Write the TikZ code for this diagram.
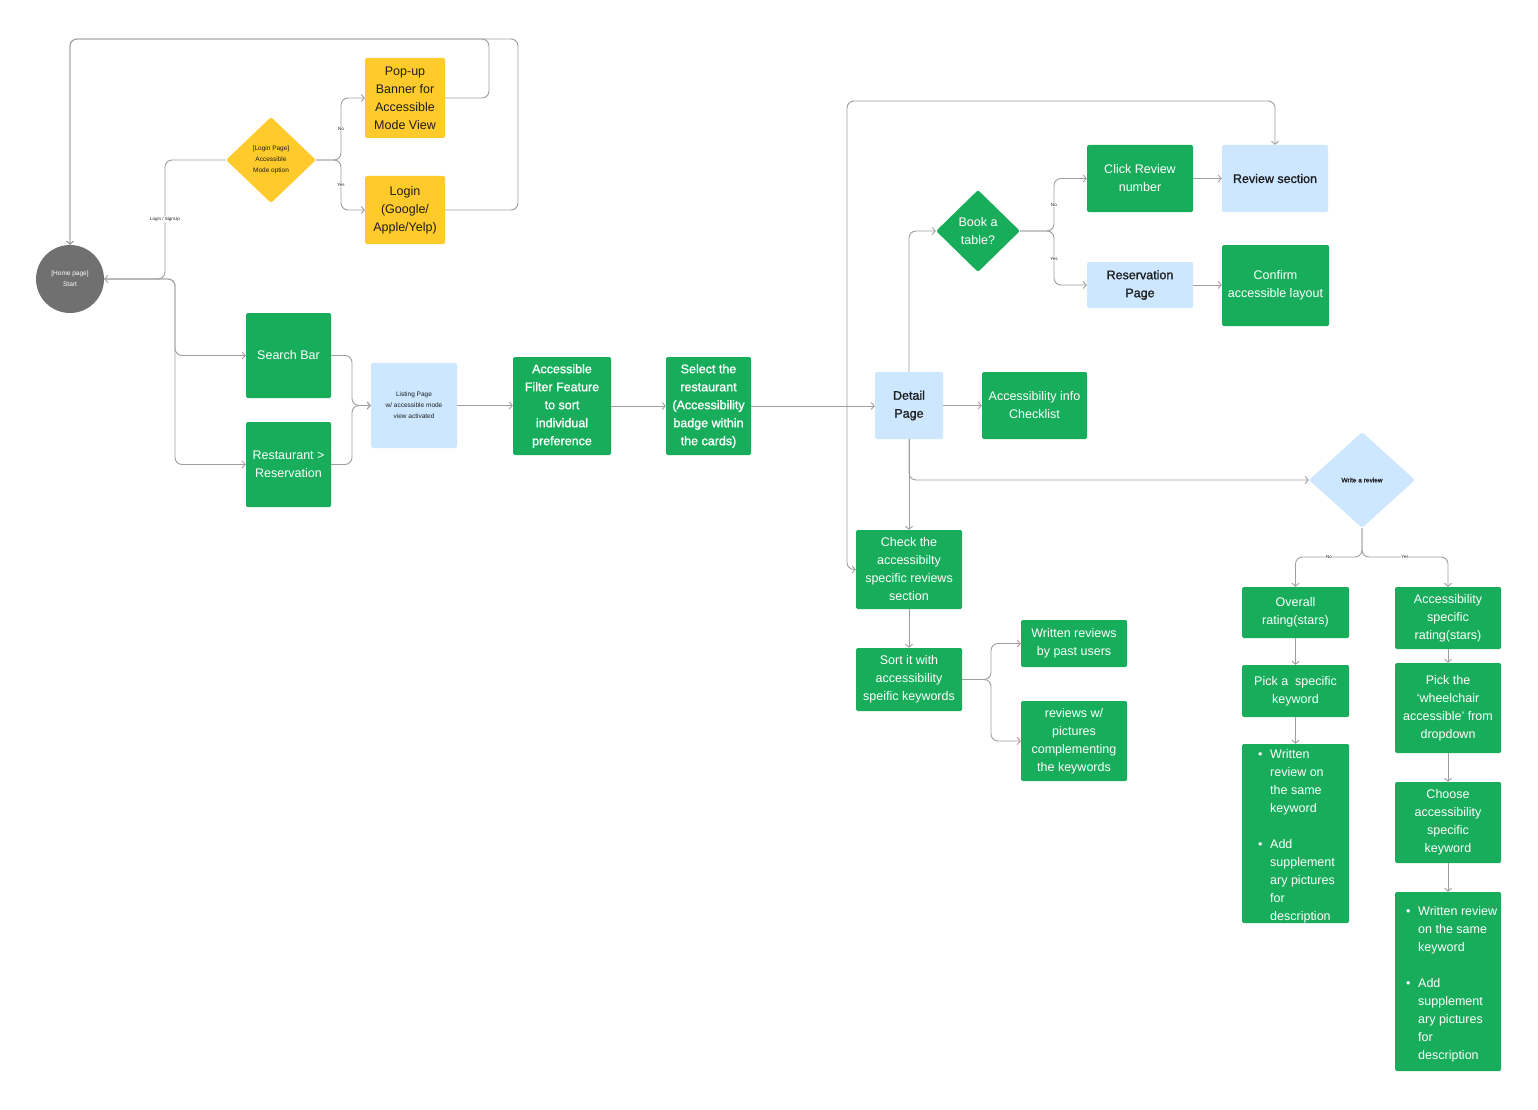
\documentclass[tikz,border=0pt]{standalone}
\usepackage{fontspec}
\setmainfont{Liberation Sans}
\newfontfamily\semi[FakeBold=1.2]{Liberation Sans}
\usetikzlibrary{shapes.geometric,arrows.meta}
\definecolor{gr}{HTML}{17AD5B}
\definecolor{yl}{HTML}{FFCA2C}
\definecolor{bl}{HTML}{CCE7FF}
\definecolor{ln}{HTML}{9E9E9E}
\definecolor{cg}{HTML}{707070}
\definecolor{dk}{HTML}{1E1E1E}
\newcommand\bul{\makebox[12pt][l]{\textbullet}}
\newcommand\ind{\hspace*{12pt}}
\tikzset{
 box/.style={rectangle, rounded corners=1.5pt, inner sep=0pt, align=center, font=\fontsize{12.5}{18}\selectfont},
 gbox/.style={box, fill=gr, text=white},
 ybox/.style={box, fill=yl, text=dk},
 bbox/.style={box, fill=bl, text=dk},
 semifont/.style={font=\semi\fontsize{12.5}{18}\selectfont},
 sz/.style 2 args={minimum width=#1, minimum height=#2},
 dia/.style={diamond, inner sep=0pt, align=center, rounded corners=2pt},
 tiny/.style={font=\fontsize{6.5}{11}\selectfont},
 lbl/.style={fill=white, inner sep=0.6pt, text=dk, font=\fontsize{4.5}{5}\selectfont},
 conn/.style={draw=ln, line width=0.9pt, rounded corners=7pt},
 arr/.style={conn, -{Straight Barb[length=3pt,width=7pt]}},
 arrb/.style={conn, {Straight Barb[length=3pt,width=7pt]}-{Straight Barb[length=3pt,width=7pt]}},
}
\begin{document}
\begin{tikzpicture}[x=1pt,y=-1pt]
\useasboundingbox (0,0) rectangle (1538,1110);
% nodes
\node[circle, fill=cg, minimum size=68pt, inner sep=0pt, text=white, align=center, font=\fontsize{6.5}{11}\selectfont] (home) at (70,279) {[Home page]\\Start};
\node[dia, fill=yl, text=dk, tiny, minimum width=90pt, minimum height=86pt] (logind) at (271,160) {[Login Page]\\Accessible\\Mode option};
\node[ybox, sz={80pt}{80pt}] (popup) at (405,98) {Pop-up\\Banner for\\Accessible\\Mode View};
\node[ybox, sz={80pt}{68pt}] (loginb) at (405,210) {Login\\(Google/\\Apple/Yelp)};
\node[gbox, sz={85pt}{85pt}] (search) at (288.5,355.5) {Search Bar};
\node[gbox, sz={85pt}{85pt}] (rest) at (288.5,464.5) {Restaurant >\\Reservation};
\node[bbox, tiny, sz={86pt}{85pt}] (listing) at (414,405.5) {Listing Page\\w/ accessible mode\\view activated};
\node[gbox, semifont, sz={98pt}{98pt}] (filter) at (562,406) {Accessible\\Filter Feature\\to sort\\individual\\preference};
\node[gbox, semifont, sz={85pt}{98pt}] (select) at (708.5,406) {Select the\\restaurant\\(Accessibility\\badge within\\the cards)};
\node[bbox, semifont, sz={68pt}{67pt}] (detail) at (909,405.5) {Detail\\Page};
\node[gbox, sz={105pt}{67pt}] (checklist) at (1034.5,405.5) {Accessibility info\\Checklist};
\node[dia, fill=gr, text=white, font=\fontsize{12.5}{18}\selectfont, minimum width=84pt, minimum height=82pt] (book) at (978,231) {Book a\\table?};
\node[gbox, sz={106pt}{67pt}] (clickrev) at (1140,178.5) {Click Review\\number};
\node[bbox, semifont, sz={106pt}{67pt}] (review) at (1275,178.5) {Review section};
\node[bbox, semifont, sz={106pt}{46pt}] (resv) at (1140,285) {Reservation\\Page};
\node[gbox, sz={107pt}{81pt}] (confirm) at (1275.5,285.5) {Confirm\\accessible layout};
\node[dia, fill=bl, text=dk, font=\semi\fontsize{6.5}{8}\selectfont, minimum width=106pt, minimum height=96pt] (write) at (1362,480) {Write a review};
\node[gbox, sz={106pt}{79pt}] (check) at (909,569.5) {Check the\\accessibilty\\specific reviews\\section};
\node[gbox, sz={106pt}{63pt}] (sort) at (909,679.5) {Sort it with\\accessibility\\speific keywords};
\node[gbox, sz={106pt}{47pt}] (written) at (1074,643.5) {Written reviews\\by past users};
\node[gbox, sz={106pt}{80pt}] (pics) at (1074,741) {reviews w/\\pictures\\complementing\\the keywords};
\node[gbox, sz={107pt}{51pt}] (overall) at (1295.5,612.5) {Overall\\rating(stars)};
\node[gbox, sz={107pt}{52pt}] (pickkw) at (1295.5,691) {Pick a\ \ specific\\keyword};
\node[gbox, sz={107pt}{179pt}] (bulL) at (1295.5,833.5) {};
\node[gbox, sz={106pt}{62pt}] (accrating) at (1448,618) {Accessibility\\specific\\rating(stars)};
\node[gbox, sz={106pt}{90pt}] (pickwc) at (1448,708) {Pick the\\‘wheelchair\\accessible’ from\\dropdown};
\node[gbox, sz={106pt}{81pt}] (choose) at (1448,822.5) {Choose\\accessibility\\specific\\keyword};
\node[gbox, sz={106pt}{179pt}] (bulR) at (1448,981.5) {};
\node[anchor=north west, inner sep=0pt, text=white, font=\fontsize{12.5}{18}\selectfont] (bulLt) at (1258,746) {\begin{tabular}{@{}l@{}}\bul Written\\ \ind review on\\ \ind the same\\ \ind keyword\\[18pt] \bul Add\\ \ind supplement\\ \ind ary pictures\\ \ind for\\ \ind description\end{tabular}};
\node[anchor=north west, inner sep=0pt, text=white, font=\fontsize{12.5}{18}\selectfont] (bulRt) at (1406,903) {\begin{tabular}{@{}l@{}}\bul Written review\\ \ind on the same\\ \ind keyword\\[18pt] \bul Add\\ \ind supplement\\ \ind ary pictures\\ \ind for\\ \ind description\end{tabular}};
% connectors
\draw[arr] (logind.west) -- (165,160) -- (165,279) -- (home.east);
\node[lbl] (lsign) at (165,219) {Login / SignUp};
\draw[arr] (home.east) -- (175,279) -- (175,355.5) -- (search.west);
\draw[arr] (home.east) -- (175,279) -- (175,464.5) -- (rest.west);
\draw[arr] (logind.east) -- (341,160) -- (341,98) -- (popup.west);
\draw[arr] (logind.east) -- (341,160) -- (341,210) -- (loginb.west);
\node[lbl] (lno) at (341,129) {No};
\node[lbl] (lyes) at (341,185) {Yes};
\draw[arr] (popup.east) -- (489,98) -- (489,39) -- (70,39) -- (home.north);
\draw[arr] (loginb.east) -- (518,210) -- (518,39) -- (70,39) -- (home.north);
\draw[arr] (search.east) -- (352,355.5) -- (352,405.5) -- (listing.west);
\draw[arr] (rest.east) -- (352,464.5) -- (352,405.5) -- (listing.west);
\draw[arr] (listing.east) -- (filter.west |- listing.east);
\draw[arr] (filter.east) -- (select.west);
\draw[arr] (select.east) -- (detail.west |- select.east);
\draw[arr] (detail.east) -- (checklist.west);
\draw[arr] (detail.north) -- (909,231) -- (book.west);
\draw[arr] (book.east) -- (1054,231) -- (1054,178.5) -- (clickrev.west);
\draw[arr] (book.east) -- (1054,231) -- (1054,285) -- (resv.west);
\node[lbl] (bno) at (1054,205) {No};
\node[lbl] (byes) at (1054,259) {Yes};
\draw[arr] (clickrev.east) -- (review.west);
\draw[arr] (resv.east) -- (confirm.west |- resv.east);
\draw[arrb] (check.west) -- (847,569.5) -- (847,101) -- (1275,101) -- (review.north);
\draw[arr] (detail.south) -- (check.north);
\draw[arr] (detail.south) -- (909,480) -- (write.west);
\draw[arr] (check.south) -- (sort.north);
\draw[arr] (sort.east) -- (991,679.5) -- (991,643.5) -- (written.west);
\draw[arr] (sort.east) -- (991,679.5) -- (991,741) -- (pics.west);
\draw[arr] (write.south) -- (1362,557) -- (1295.5,557) -- (overall.north);
\draw[arr] (write.south) -- (1362,557) -- (1448,557) -- (accrating.north);
\node[lbl] (wno) at (1329,557) {No};
\node[lbl] (wyes) at (1405,557) {Yes};
\draw[arr] (overall.south) -- (pickkw.north);
\draw[arr] (pickkw.south) -- (bulL.north);
\draw[arr] (accrating.south) -- (pickwc.north);
\draw[arr] (pickwc.south) -- (choose.north);
\draw[arr] (choose.south) -- (bulR.north);
\end{tikzpicture}
\end{document}
